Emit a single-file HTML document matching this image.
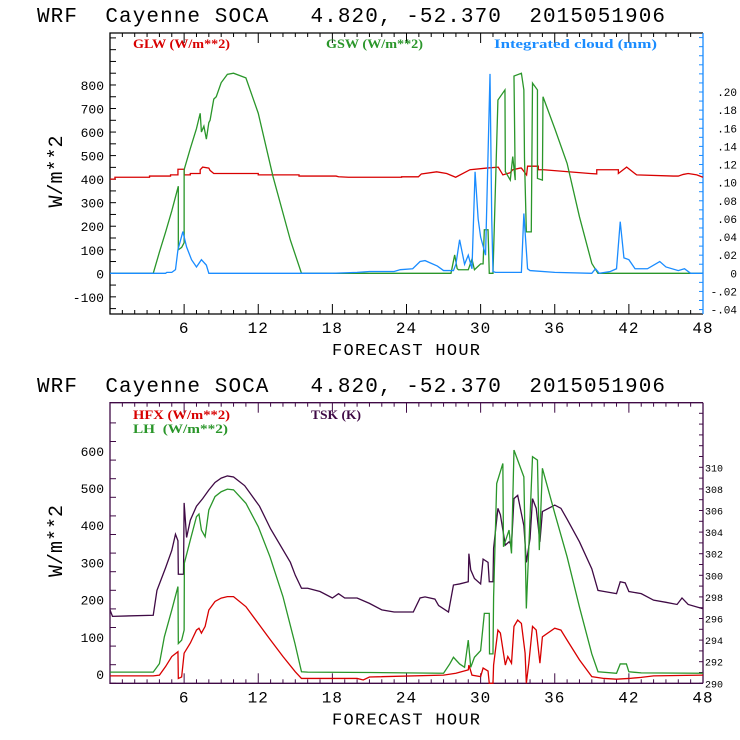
<!DOCTYPE html>
<html><head><meta charset="utf-8"><style>
html,body{margin:0;padding:0;background:#fff;}
svg{display:block;}
svg text{white-space:pre;}
.mono{font-family:"Liberation Mono","DejaVu Sans Mono",monospace;}
.ser{font-family:"Liberation Serif",serif;font-weight:bold;}
</style></head><body>
<svg id="chart" width="740" height="740" viewBox="0 0 740 740" xmlns="http://www.w3.org/2000/svg" xml:space="preserve">
<text class="mono" x="37" y="22" font-size="21" textLength="628" lengthAdjust="spacing">WRF  Cayenne SOCA   4.820, -52.370  2015051906</text>
<text class="mono" x="37" y="392" font-size="21" textLength="628" lengthAdjust="spacing">WRF  Cayenne SOCA   4.820, -52.370  2015051906</text>
<g id="g"></g>
</svg>
<script>
// ---- Top panel data ----
const xTickHours = [6,12,18,24,30,36,42,48];
const topLeftTicks = [800,700,600,500,400,300,200,100,0,-100];
const topRightTicks = [0.20,0.18,0.16,0.14,0.12,0.10,0.08,0.06,0.04,0.02,0,-0.02,-0.04];
const topRightLabels = [".20",".18",".16",".14",".12",".10",".08",".06",".04",".02","0","-.02","-.04"];
const botLeftTicks = [600,500,400,300,200,100,0];
const botRightTicks = [310,308,306,304,302,300,298,296,294,292,290];

const glwHours = [0,0.4,0.4,3.2,3.2,4.9,4.9,5.5,5.5,6.0,6.0,6.5,6.5,7.3,7.3,7.5,8.0,8.1,8.4,12.0,12.0,15.3,15.3,18.3,18.5,19.3,23.6,23.6,24.96,25.2,26.44,26.44,27.25,27.25,27.98,27.98,29.14,29.14,30.49,30.49,31.43,31.43,31.8,32.38,32.6,33.2,33.3,33.72,33.8,34.67,34.67,35.1,38.85,38.85,39.4,39.4,41.15,41.15,41.82,41.82,42.63,42.63,45.6,46.0,46.4,46.8,47.5,48];
const glwValues = [400,400,408,408,413,413,418,418,442,442,418,418,424,424,440,451,447,437,424,424,418,418,413,413,410,408,408,410,410,422,431,431,424,424,408,408,440,440,447,447,451,451,418,427,440,447,447,418,455,455,440,440,424,424,422,440,440,424,451,451,418,418,413,413,420,424,418,408,408];

const gswHours = [0,3.5,4.0,4.5,5.0,5.53,5.53,5.8,6.0,6.0,6.5,7.0,7.3,7.4,7.6,7.8,8.0,8.1,8.4,8.6,9.0,9.5,10.0,11.0,12.0,13.2,14.6,15.5,27.6,27.9,28.1,28.2,29.0,29.3,29.5,30.0,30.2,30.3,30.6,30.7,31.0,31.4,31.97,32.0,32.4,32.6,32.8,32.7,33.3,33.5,33.55,33.7,34.1,34.2,34.6,34.6,35.0,35.05,36.0,37.0,38.0,39.0,39.5,48];
const gswValues = [0,0,90,175,265,370,100,110,130,440,530,615,680,600,625,570,640,650,740,750,810,845,850,830,680,410,141,0,0,78,20,15,15,60,15,40,40,185,185,0,0,736,779,432,396,496,396,838,850,779,490,176,176,808,779,403,396,750,615,467,240,42,0,0];

const cloudHours = [0,4.5,4.6,5.0,5.3,5.5,5.9,6.2,6.6,7.0,7.4,7.8,8.0,18,20,21,23,23.5,24.5,25.1,25.5,26.5,27,27.8,28.0,28.3,28.7,29.0,29.3,29.55,29.8,30.0,30.4,30.76,30.9,31.0,31.2,33.3,33.5,33.8,34.0,36,39,39.3,39.6,40.5,41.0,41.3,41.6,42.0,42.5,43.5,44.5,45.0,46.0,46.5,47.0,48];
const cloudValues = [0,0,0.001,0.001,0.004,0.026,0.046,0.029,0.015,0.007,0.015,0.009,0,0,0.001,0.002,0.002,0.004,0.005,0.013,0.014,0.008,0.003,0.003,0.010,0.037,0.010,0.020,0.005,0.112,0.06,0.040,0.020,0.220,0.060,0.002,0.001,0.001,0.066,0.005,0.003,0.001,0,0.005,0,0.002,0.005,0.057,0.017,0.015,0.005,0.005,0.013,0.007,0.003,0.005,0,0];

// ---- Bottom panel data ----
const hfxHours = [0,3.5,4.0,4.5,5.0,5.5,5.53,5.8,6.0,6.5,7.0,7.2,7.4,7.7,8.0,8.5,9.0,9.5,10.0,11.0,12.0,13.0,14.0,15.0,15.5,20.0,20.5,21.0,27.0,28.0,29.0,29.05,29.3,30.0,30.2,30.6,30.7,31.0,31.05,31.4,31.6,32.0,32.2,32.5,32.7,33.0,33.3,33.6,33.7,33.9,34.2,34.5,34.8,35.0,36.0,36.5,37.0,38.0,39.0,40.0,41.0,42.0,43.0,44.0,48];
const hfxValues = [-5,-5,-3,20,47,60,-12,-8,56,83,118,123,110,128,172,195,204,208,208,181,136,91,47,6,-12,-12,-16,-8,-3,2,11,24,-3,-7,16,8,-25,-25,24,118,110,24,47,29,128,145,136,56,-25,29,128,118,29,100,123,118,91,38,-7,-12,-14,-12,-9,-5,-3];

const lhHours = [0,3.5,4.0,4.4,5.0,5.5,5.53,5.8,6.0,6.02,6.5,7.0,7.2,7.4,7.7,8.0,8.5,9.0,9.5,10.0,11.0,12.0,12.95,14.0,14.97,15.5,16,21,27,27.5,27.8,28.3,28.7,29.0,29.2,29.5,30.0,30.3,30.7,30.72,31.0,31.05,31.3,31.8,31.85,32.3,32.5,32.7,33.0,33.5,33.7,34.2,34.6,34.75,35.0,36.0,37.0,38.0,39.0,39.5,41.0,41.3,41.8,42.0,43.0,48];
const lhValues = [5,5,28,100,172,235,82,91,118,298,360,423,430,387,369,441,477,490,497,495,459,396,315,208,82,6,5,4,2,27,45,27,18,91,18,45,63,163,163,54,54,207,512,566,342,387,324,602,575,530,176,584,575,333,553,432,315,180,54,6,2,27,27,6,3,2];

const tskHours = [0,0.2,3.5,3.8,4.5,5.0,5.3,5.5,5.53,5.95,6.0,6.2,6.5,7.0,7.5,8.0,8.5,9.0,9.5,10.0,10.9,12.1,13.0,14.6,15.0,15.5,16.0,17.0,18.0,18.5,19.0,20.0,21.0,22.0,23.0,24.55,25.1,25.5,26.3,26.6,27.4,27.8,28.3,29.0,29.05,29.2,29.5,30.0,30.2,30.6,30.7,31.0,31.05,31.4,31.6,32.0,32.3,32.5,32.7,33.0,33.5,33.7,34.0,34.2,34.5,34.8,35.0,36.0,36.5,37.0,38.0,39.0,39.5,40.0,41.0,41.3,41.7,42.0,43.0,44.0,45.0,45.9,46.3,46.8,48];
const tskValues = [296.8,296.2,296.3,298.6,300.7,302.3,303.8,303.2,300.1,300.1,306.7,303.5,305.1,306.4,307.1,307.9,308.6,309.0,309.2,309.1,308.3,306.4,304.3,301.2,300.0,298.8,298.8,298.5,297.9,298.3,297.9,297.9,297.4,296.8,296.6,296.6,297.9,298.0,297.8,297.2,296.6,299.1,299.2,299.4,302.0,300.5,299.7,299.2,301.5,301.2,299.4,299.4,302.5,306.2,305.6,302.8,303.1,302.8,307.1,307.4,304.6,301.2,303.4,307.1,306.2,303.1,305.9,306.5,306.2,305.2,303.1,300.6,298.6,298.5,298.3,299.4,299.3,298.5,298.3,297.7,297.5,297.3,297.9,297.3,296.9];

// ---- geometry / scales ----
const X0 = 110, X1 = 703;
function xs(h){ return X0 + h*(X1-X0)/48; }
const T = {top:33, bot:314};
function yTopL(v){ return 273.3 - v*0.2354; }
function yTopR(mm){ return 273.3 - mm*906.5; }
const B = {top:402.7, bot:683.3};
function yBotL(v){ return 674 - v*0.372; }
function yBotR(k){ return 683.3 - (k-290)*10.8; }

const RED="#d80000", GREEN="#2a962a", BLUE="#1a8cff", PURPLE="#3f0a45";
const NS="http://www.w3.org/2000/svg";
const g = document.getElementById('g');
function mk(tag, attrs, parent){
  const e = document.createElementNS(NS, tag);
  for (const k in attrs) e.setAttribute(k, attrs[k]);
  (parent||g).appendChild(e); return e;
}
function series(hours, vals, yf, color, name){
  let d = '';
  for (let i=0;i<hours.length;i++){
    d += (i?'L':'M') + xs(hours[i]).toFixed(2) + ',' + yf(vals[i]).toFixed(2);
  }
  const p = mk('path', {d:d, fill:'none', stroke:color, 'stroke-width':1.3, 'stroke-linejoin':'miter'});
  
  
  return p;
}
function txt(x,y,s,attrs,name){
  const t = mk('text', Object.assign({x:x,y:y}, attrs));
  t.textContent = s;
  
  
  return t;
}

function panel(P, yL, yR, leftMin, leftMax, rightMin, rightMax, rightStep, frameColor, rightColor, prefix){
  for (let h=1; h<48; h++){
    const len = (h%6===0)?10:4;
    const x = xs(h);
    const t1 = mk('line',{x1:x,x2:x,y1:P.bot,y2:P.bot-len,stroke:frameColor,'stroke-width':1});
    
    
    const t2 = mk('line',{x1:x,x2:x,y1:P.top,y2:P.top+len,stroke:frameColor,'stroke-width':1});
    
    
  }
  for (let v=leftMin; v<=leftMax; v+=50){
    const y = yL(v);
    if (y<P.top || y>P.bot) continue;
    const t = mk('line',{x1:X0,x2:X0+6,y1:y,y2:y,stroke:frameColor,'stroke-width':1});
    
    
  }
  for (let v=rightMin; v<=rightMax+1e-9; v+=rightStep){
    const y = yR(v);
    if (y<P.top || y>P.bot) continue;
    const t = mk('line',{x1:X1,x2:X1-4,y1:y,y2:y,stroke:rightColor,'stroke-width':1});
    
    
  }
  const f = mk('path',{d:`M${X1},${P.top}L${X0},${P.top}L${X0},${P.bot}L${X1},${P.bot}`,fill:'none',stroke:frameColor,'stroke-width':1.3});
  
  
  const r = mk('line',{x1:X1,x2:X1,y1:P.top,y2:P.bot,stroke:rightColor,'stroke-width':1.3});
  
  
  xTickHours.forEach(h=>{
    txt(xs(h), P.bot+19, String(h), {'class':'mono','font-size':16,'text-anchor':'middle','letter-spacing':1}, prefix+'-x-tick-label');
  });
  txt(332, P.bot+41, 'FORECAST HOUR', {'class':'mono','font-size':17,textLength:148,lengthAdjust:'spacing'}, prefix+'-x-axis-title');
  const cy = (P.top+P.bot)/2 - 2;
  txt(0,0,'W/m**2',{'class':'mono','font-size':20,'text-anchor':'middle',transform:`translate(62,${cy}) rotate(-90)`}, prefix+'-y-axis-title');
}

panel(T, yTopL, yTopR, -150, 1000, -0.04, 0.26, 0.01, '#000', BLUE, 'top');
topLeftTicks.forEach(v=>txt(104, yTopL(v)+5, String(v), {'class':'mono','font-size':13,'text-anchor':'end'}, 'top-y-tick-label'));
topRightTicks.forEach((v,i)=>txt(737, yTopR(v)+4, topRightLabels[i], {'class':'mono','font-size':11,'text-anchor':'end'}, 'top-right-tick-label'));
series(glwHours, glwValues, yTopL, RED, 'glw-line');
series(gswHours, gswValues, yTopL, GREEN, 'gsw-line');
series(cloudHours, cloudValues, yTopR, BLUE, 'cloud-line');
txt(133, 48, 'GLW (W/m**2)', {'class':'ser','font-size':13,fill:RED,textLength:97,lengthAdjust:'spacingAndGlyphs'}, 'legend-glw');
txt(326, 48, 'GSW (W/m**2)', {'class':'ser','font-size':13,fill:GREEN,textLength:97,lengthAdjust:'spacingAndGlyphs'}, 'legend-gsw');
txt(494, 48, 'Integrated cloud (mm)', {'class':'ser','font-size':13,fill:BLUE,textLength:163,lengthAdjust:'spacingAndGlyphs'}, 'legend-cloud');

panel(B, yBotL, yBotR, -25, 700, 290, 316, 1, PURPLE, PURPLE, 'bottom');
botLeftTicks.forEach(v=>txt(104, yBotL(v)+5, String(v), {'class':'mono','font-size':13,'text-anchor':'end'}, 'bottom-y-tick-label'));
botRightTicks.forEach(v=>txt(705, yBotR(v)+4, String(v), {'class':'mono','font-size':10}, 'bottom-right-tick-label'));
series(tskHours, tskValues, yBotR, PURPLE, 'tsk-line');
series(lhHours, lhValues, yBotL, GREEN, 'lh-line');
series(hfxHours, hfxValues, yBotL, RED, 'hfx-line');
txt(133, 419, 'HFX (W/m**2)', {'class':'ser','font-size':13,fill:RED,textLength:97,lengthAdjust:'spacingAndGlyphs'}, 'legend-hfx');
txt(133, 433, 'LH  (W/m**2)', {'class':'ser','font-size':13,fill:GREEN,textLength:95,lengthAdjust:'spacingAndGlyphs'}, 'legend-lh');
txt(311, 419, 'TSK (K)', {'class':'ser','font-size':13,fill:PURPLE,textLength:50,lengthAdjust:'spacingAndGlyphs'}, 'legend-tsk');
</script>
</body></html>
